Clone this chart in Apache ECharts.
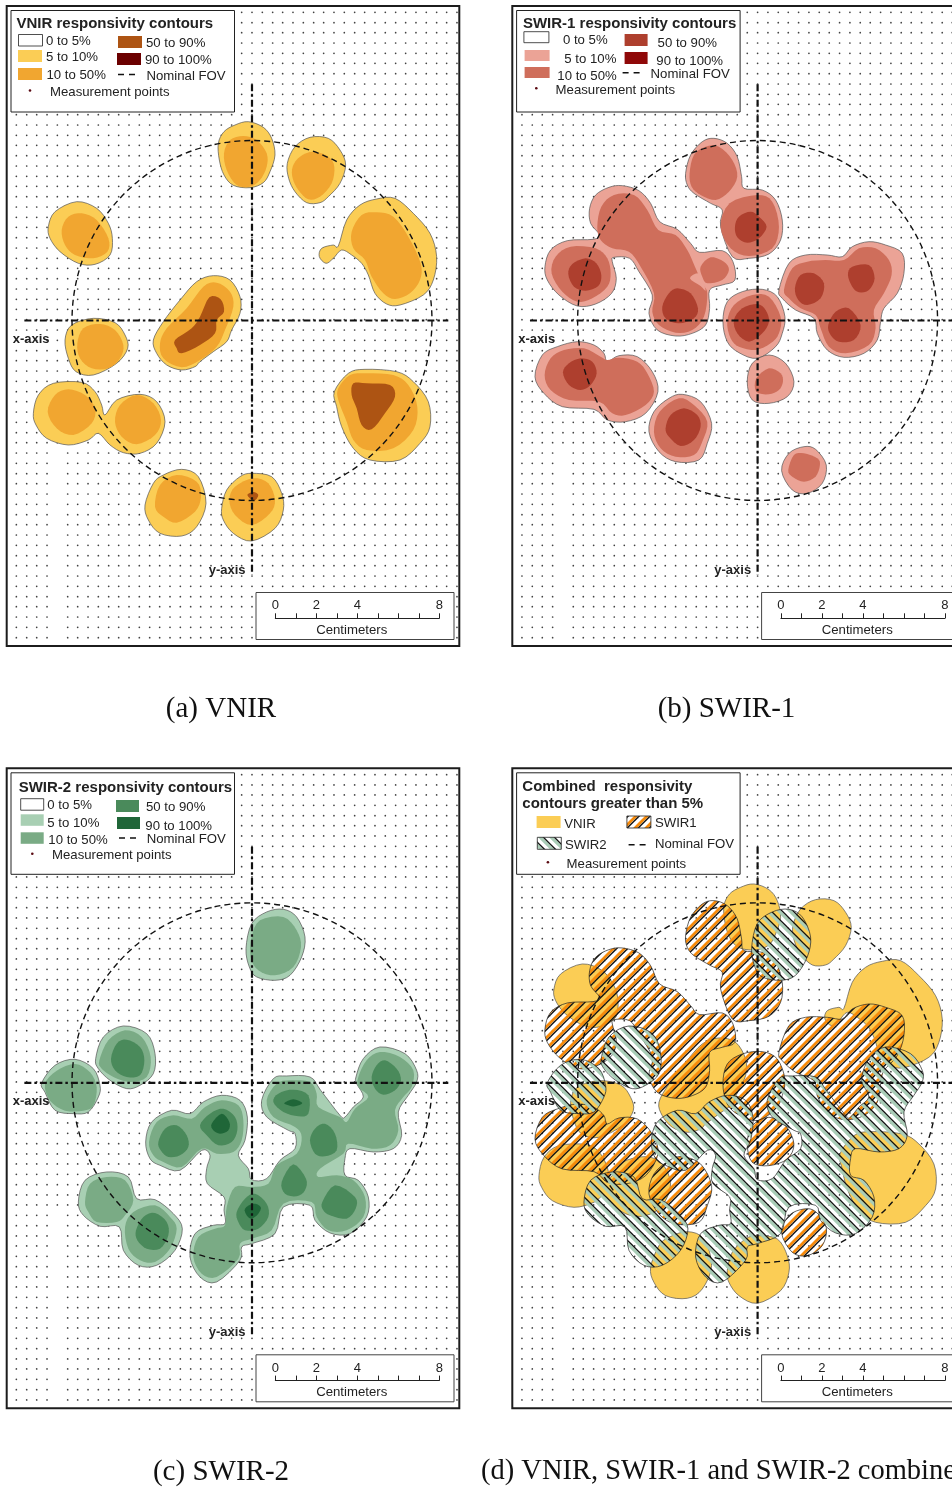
<!doctype html>
<html lang="en">
  <head>
    <meta charset="UTF-8" />
    <title>Responsivity contours</title>
    <style>
      html, body { margin: 0; background: #fff; }
      #chart { width: 952px; height: 1488px; overflow: hidden; }
    </style>
  </head>
  <body>
    <div id="chart"></div>
    <script src="https://cdn.jsdelivr.net/npm/echarts@6/dist/echarts.min.js"></script>
    <script>
      // Map units: 61.5 units = 1 cm, FOV centre sits at (756, 961.5), y grows downward.
      const dotCols = [49, 80, 110, 141, 172, 203, 233, 264, 295, 326, 356, 387, 418, 449, 479, 510, 541, 572, 602, 633, 664, 695, 725, 756, 787, 818, 848, 879, 910, 941, 971, 1002, 1033, 1064, 1094, 1125, 1156, 1187, 1217, 1248, 1279, 1310, 1340, 1371];
      const dotRows = [37, 68, 98, 129, 160, 190, 221, 252, 283, 313, 344, 375, 406, 436, 467, 498, 529, 559, 590, 621, 652, 682, 713, 744, 775, 805, 836, 867, 898, 928, 959, 990, 1021, 1052, 1082, 1113, 1144, 1175, 1205, 1236, 1267, 1298, 1328, 1359, 1390, 1421, 1451, 1482, 1513, 1544, 1574, 1605, 1636, 1667, 1697, 1728, 1759, 1790, 1820, 1851, 1882, 1913];

      const fovCentre = [756, 961.5];
      const fovRadius = 540;
      const xAxisLine = [[73, 961.5], [1345, 961.5]];
      const yAxisLine = [[756, 253], [756, 1725]];

      const scaleTickLabels = [0, 2, 4, 8];

      // VNIR contours
      const vnir5 = [
        [[655,430],[672,395],[705,375],[745,365],[790,382],[815,415],[825,465],[810,515],[790,548],[750,563],[700,556],[672,525],[658,480]],
        [[862,490],[885,440],[930,412],[985,415],[1020,450],[1037,495],[1020,550],[985,590],[960,608],[920,608],[885,575],[866,535]],
        [[1015,738],[1040,660],[1080,615],[1130,597],[1185,595],[1240,640],[1290,700],[1310,770],[1300,840],[1270,885],[1200,915],[1160,912],[1125,880],[1105,825],[1085,790],[1055,765],[1025,750],[1000,775],[978,790],[958,770],[965,745],[1000,735]],
        [[145,680],[165,635],[230,605],[290,625],[325,670],[337,715],[330,765],[285,793],[235,790],[180,755],[150,715]],
        [[460,1020],[490,965],[540,900],[590,845],[640,827],[690,840],[720,890],[720,940],[695,990],[680,1025],[640,1055],[600,1085],[585,1100],[545,1110],[500,1095],[470,1060]],
        [[195,1020],[215,975],[280,955],[345,968],[375,1005],[383,1045],[350,1090],[280,1125],[228,1115],[205,1075]],
        [[100,1240],[115,1185],[160,1150],[245,1147],[285,1175],[305,1215],[315,1245],[350,1200],[420,1183],[470,1205],[495,1265],[470,1330],[420,1360],[370,1358],[330,1335],[295,1300],[265,1320],[205,1335],[140,1315],[108,1275]],
        [[1003,1175],[1045,1120],[1095,1108],[1190,1115],[1240,1145],[1285,1205],[1290,1280],[1260,1330],[1200,1380],[1110,1380],[1060,1345],[1025,1280],[1010,1220]],
        [[435,1515],[460,1450],[490,1425],[545,1408],[595,1430],[618,1510],[590,1580],[545,1608],[480,1600],[445,1560]],
        [[665,1525],[680,1470],[720,1430],[755,1420],[815,1430],[845,1480],[850,1530],[825,1585],[755,1623],[700,1600],[670,1560]],
      ];
      const vnir10 = [
        [[672,460],[690,420],[730,408],[770,420],[800,460],[800,500],[780,540],[750,560],[710,555],[680,510]],
        [[878,500],[900,470],[940,455],[985,470],[1003,500],[995,550],[960,590],[925,598],[895,570],[878,535]],
        [[1055,695],[1085,645],[1130,637],[1180,650],[1225,710],[1262,790],[1260,840],[1230,880],[1185,897],[1150,880],[1115,830],[1095,780],[1060,745]],
        [[185,690],[205,650],[245,640],[290,660],[325,715],[322,755],[280,775],[225,765],[195,735]],
        [[480,1030],[500,985],[560,925],[610,860],[650,848],[690,875],[700,920],[675,990],[650,1040],[600,1080],[545,1102],[490,1075]],
        [[232,1030],[250,985],[300,972],[345,990],[370,1035],[360,1075],[325,1105],[275,1105],[240,1075]],
        [[143,1235],[165,1185],[205,1168],[255,1185],[285,1225],[275,1270],[220,1305],[170,1285]],
        [[345,1265],[360,1215],[410,1185],[460,1210],[483,1260],[465,1305],[410,1333],[365,1310]],
        [[1015,1165],[1050,1125],[1100,1120],[1180,1125],[1225,1155],[1252,1220],[1240,1290],[1180,1345],[1100,1350],[1060,1320],[1040,1265],[1015,1200]],
        [[465,1520],[480,1455],[530,1425],[590,1445],[603,1490],[585,1535],[530,1568],[490,1550]],
        [[688,1500],[705,1460],[760,1435],[805,1450],[825,1500],[810,1540],[755,1575],[705,1545]],
      ];
      const vnir50 = [
        [[525,1020],[575,985],[600,950],[628,892],[662,898],[672,935],[650,960],[645,1000],[600,1035],[545,1060],[530,1045]],
        [[1055,1185],[1060,1150],[1100,1150],[1170,1155],[1185,1190],[1155,1240],[1115,1288],[1085,1275],[1070,1225]],
        [[742,1485],[760,1476],[775,1485],[762,1502]],
      ];

      // SWIR-1 contours
      const swir15 = [
        [[540,520],[555,465],[590,425],[625,415],[665,430],[695,470],[708,530],[715,565],[770,570],[810,600],[830,660],[825,720],[790,762],[730,775],[680,770],[645,680],[650,630],[615,610],[565,580],[545,555]],
        [[118,800],[135,750],[185,722],[262,718],[282,705],[255,670],[252,625],[270,585],[310,562],[350,557],[400,572],[435,610],[462,665],[515,688],[555,730],[582,757],[650,752],[682,785],[688,840],[650,855],[612,870],[612,925],[600,975],[560,1000],[510,1008],[455,990],[430,940],[440,885],[400,815],[372,775],[325,772],[320,785],[332,835],[318,880],[270,912],[215,918],[160,885],[125,840]],
        [[652,965],[665,905],[710,875],[770,868],[815,890],[838,950],[830,1000],[810,1040],[755,1075],[700,1058],[665,1025]],
        [[820,870],[850,790],[900,765],[965,765],[1010,770],[1040,740],[1090,725],[1140,735],[1190,760],[1195,820],[1175,880],[1135,925],[1125,965],[1115,1020],[1075,1060],[1015,1072],[965,1050],[935,1000],[925,955],[870,930],[830,895]],
        [[88,1130],[110,1065],[155,1040],[215,1025],[265,1035],[295,1060],[305,1085],[340,1067],[395,1070],[440,1115],[457,1175],[420,1240],[360,1265],[305,1260],[265,1228],[170,1220],[115,1180]],
        [[430,1295],[445,1235],[490,1195],[530,1183],[585,1205],[618,1270],[605,1330],[580,1380],[510,1385],[460,1355]],
        [[725,1145],[740,1090],[790,1065],[840,1090],[865,1145],[845,1190],[790,1210],[740,1200]],
        [[828,1412],[850,1360],[895,1340],[930,1348],[962,1395],[950,1450],[905,1480],[860,1470]],
      ];
      const swir110 = [
        [[552,520],[565,465],[600,440],[640,440],[680,480],[695,530],[670,575],[630,600],[585,585],[558,560]],
        [[645,680],[672,610],[755,585],[800,605],[820,680],[800,745],[730,768],[675,745]],
        [[275,680],[287,620],[325,585],[385,585],[425,630],[458,690],[510,705],[545,750],[568,800],[590,850],[605,880],[595,950],[560,990],[510,998],[460,975],[440,935],[445,880],[405,800],[370,755],[320,745],[285,720]],
        [[585,800],[615,772],[655,785],[670,810],[650,840],[605,850],[590,830]],
        [[138,820],[150,770],[195,740],[270,745],[305,775],[315,820],[305,860],[260,895],[215,905],[170,875]],
        [[665,965],[685,915],[740,885],[790,890],[825,950],[820,1000],[795,1030],[750,1050],[700,1040],[675,1015]],
        [[835,870],[860,805],[905,785],[960,780],[1015,780],[1060,745],[1110,745],[1150,780],[1158,825],[1135,880],[1105,930],[1110,985],[1090,1035],[1020,1060],[970,1040],[945,985],[930,945],[885,925],[850,895]],
        [[117,1125],[135,1075],[175,1050],[235,1045],[285,1070],[305,1080],[340,1073],[395,1085],[425,1120],[445,1175],[420,1215],[360,1245],[320,1240],[280,1205],[190,1200],[135,1170]],
        [[445,1295],[462,1235],[520,1195],[565,1215],[605,1265],[590,1325],[565,1365],[510,1370],[465,1345]],
        [[752,1135],[790,1105],[825,1120],[832,1145],[820,1170],[790,1183],[752,1175]],
        [[848,1410],[865,1365],[895,1360],[935,1375],[943,1395],[930,1430],[895,1445],[860,1430]],
      ];
      // sliver of the 5% band that cuts into the big 10% area
      const swir1Sliver = [
        [[553,835],[578,820],[592,845],[600,872],[585,858]],
      ];
      const swir150 = [
        [[688,680],[700,650],[735,635],[760,650],[783,680],[760,715],[725,728],[695,712]],
        [[470,920],[490,880],[515,865],[555,880],[577,925],[565,955],[520,970],[480,955]],
        [[188,822],[200,792],[240,775],[272,790],[287,825],[278,858],[240,872],[205,860]],
        [[685,960],[710,925],[755,912],[780,930],[790,965],[770,1000],[730,1025],[695,1000]],
        [[868,865],[885,825],[925,820],[955,850],[945,895],[905,915],[878,900]],
        [[1027,825],[1040,800],[1090,795],[1107,835],[1090,870],[1060,877],[1040,860]],
        [[968,975],[990,935],[1030,925],[1065,975],[1045,1020],[1000,1025],[975,1005]],
        [[172,1117],[190,1090],[225,1075],[260,1085],[273,1120],[255,1155],[225,1170],[190,1155]],
        [[480,1285],[495,1245],[535,1225],[575,1245],[585,1280],[565,1320],[525,1338],[490,1310]],
      ];

      // SWIR-2 contours
      const swir25 = [
        [[738,559],[755,484],[800,449],[850,441],[890,464],[915,524],[905,584],[870,639],[825,654],[770,644],[748,614]],
        [[125,962],[165,909],[225,891],[280,919],[300,970],[295,1004],[265,1049],[220,1054],[165,1044],[135,990]],
        [[287,889],[310,824],[370,791],[440,814],[465,874],[460,934],[420,969],[380,979],[330,954],[295,919]],
        [[437,1139],[455,1079],[515,1044],[570,1054],[610,1019],[665,999],[720,1014],[742,1064],[735,1134],[715,1179],[745,1219],[755,1252],[800,1249],[840,1194],[885,1159],[885,1114],[865,1104],[800,1064],[785,1014],[820,949],[860,941],[930,944],[962,984],[1020,1059],[1035,1064],[1060,1034],[1090,1004],[1070,964],[1068,944],[1090,889],[1140,854],[1215,874],[1250,924],[1250,959],[1225,999],[1195,1049],[1205,1119],[1180,1159],[1120,1169],[1050,1159],[1035,1189],[1035,1239],[1075,1254],[1105,1304],[1100,1364],[1050,1414],[990,1412],[945,1374],[930,1329],[850,1334],[825,1414],[755,1444],[725,1454],[720,1494],[650,1559],[600,1544],[570,1484],[585,1414],[640,1389],[675,1384],[672,1344],[672,1304],[622,1264],[620,1219],[630,1179],[605,1164],[540,1224],[480,1209],[450,1189]],
        [[235,1319],[255,1254],[320,1229],[385,1244],[410,1309],[465,1312],[520,1354],[547,1399],[525,1464],[470,1509],[415,1509],[370,1464],[358,1394],[300,1392],[250,1359]],
      ];
      const swir210 = [
        [[755,524],[780,474],[850,464],[890,504],[903,554],[880,614],[825,639],[775,624],[752,584]],
        [[135,965],[170,925],[225,905],[270,930],[290,975],[280,1030],[250,1045],[195,1045],[150,1015]],
        [[298,894],[325,834],[375,804],[425,824],[452,884],[440,944],[390,959],[340,944],[305,919]],
        [[447,1139],[470,1079],[520,1059],[575,1069],[615,1034],[665,1014],[715,1029],[730,1074],[725,1134],[700,1169],[650,1174],[605,1159],[545,1214],[490,1199],[460,1179]],
        [[800,1014],[830,964],[870,954],[930,959],[950,994],[955,1034],[1020,1064],[1040,1079],[1065,1039],[1105,1004],[1075,974],[1075,944],[1100,894],[1140,869],[1200,884],[1240,924],[1235,974],[1210,1004],[1185,1044],[1195,1104],[1170,1149],[1115,1159],[1045,1144],[1030,1174],[960,1219],[955,1244],[1010,1239],[1060,1254],[1095,1304],[1090,1364],[1040,1404],[985,1404],[950,1364],[935,1319],[850,1324],[815,1404],[755,1429],[720,1444],[715,1489],[650,1544],[605,1534],[580,1484],[595,1424],[645,1399],[675,1389],[680,1334],[705,1274],[755,1274],[805,1264],[830,1209],[890,1174],[905,1124],[885,1094],[820,1064]],
        [[255,1319],[270,1264],[320,1244],[375,1254],[400,1314],[375,1359],[350,1379],[290,1379],[265,1349]],
        [[375,1394],[400,1349],[465,1329],[510,1364],[530,1399],[510,1459],[465,1499],[420,1494],[385,1459]],
      ];
      const swir250 = [
        [[333,889],[350,844],[380,832],[420,854],[433,894],[420,939],[380,944],[345,924]],
        [[1115,944],[1130,909],[1155,894],[1190,919],[1203,954],[1185,984],[1150,997],[1125,979]],
        [[475,1139],[495,1099],[530,1089],[560,1119],[565,1154],[540,1179],[505,1184],[482,1164]],
        [[600,1089],[630,1054],[670,1039],[705,1064],[712,1104],[695,1139],[655,1149],[620,1119]],
        [[820,1019],[835,994],[880,982],[925,999],[925,1054],[895,1062],[850,1049]],
        [[930,1134],[945,1099],[975,1084],[1005,1114],[1010,1164],[975,1182],[945,1174]],
        [[845,1259],[880,1206],[918,1249],[915,1284],[890,1302],[855,1294]],
        [[967,1319],[1005,1269],[1065,1304],[1067,1339],[1040,1369],[990,1359],[970,1344]],
        [[710,1349],[735,1309],[765,1294],[800,1324],[805,1364],[775,1399],[735,1404],[715,1379]],
        [[408,1404],[430,1364],[465,1352],[500,1379],[505,1419],[480,1459],[440,1459],[412,1434]],
      ];
      const swir290 = [
        [[635,1084],[665,1054],[688,1079],[685,1104],[660,1114],[640,1104]],
        [[853,1022],[880,1011],[907,1022],[885,1032],[865,1029]],
        [[735,1339],[760,1324],[782,1334],[775,1354],[755,1369],[740,1359]],
      ];

      const FONT = '"Liberation Sans", Arial, sans-serif';
      const INK = "#222";
      const vnirColors = ["#fbcd55", "#f1a630", "#ad5413", "#6b0000"];
      const swir1Colors = ["#eba396", "#cf6e5b", "#ae3f2e", "#8f0808"];
      const swir2Colors = ["#a8cfb3", "#7aab85", "#4a8a5b", "#1f6638"];

      // diagonal stripe tile for the combined panel
      function hatch(dir, color, stripeW, blackW) {
        const p = 11;
        const c = document.createElement("canvas");
        c.width = p;
        c.height = p;
        const g = c.getContext("2d");
        const stroke = (offset, col, w) => {
          g.strokeStyle = col;
          g.lineWidth = w;
          for (let k = -2; k <= 2; k++) {
            g.beginPath();
            if (dir > 0) {
              g.moveTo(k * p + offset - p, 2 * p);
              g.lineTo(k * p + offset + 2 * p, -p);
            } else {
              g.moveTo(k * p + offset - p, -p);
              g.lineTo(k * p + offset + 2 * p, 2 * p);
            }
            g.stroke();
          }
        };
        stroke(0, color, stripeW);
        stroke(3.2, "#111", blackW);
        return { image: c, repeat: "repeat" };
      }
      const swir1Hatch = hatch(1, "#f78a0a", 2.7, 1.4);
      const swir2Hatch = hatch(-1, "#a9cdb7", 3.1, 1.3);

      // frame top-left of each panel on the page
      const panelOrigins = [[6.7, 6], [512.3, 6], [6.7, 768.3], [512.3, 768.3]];
      const panelW = 452.6;
      const panelH = 640;

      const captions = [
        { text: "(a) VNIR", x: 221, y: 708, align: "center", size: 29 },
        { text: "(b) SWIR-1", x: 726.5, y: 708, align: "center", size: 29 },
        { text: "(c) SWIR-2", x: 221, y: 1471, align: "center", size: 29 },
        { text: "(d) VNIR, SWIR-1 and SWIR-2 combined", x: 481, y: 1471, align: "left", size: 28.5 },
      ];

      // legend layouts, offsets from the left/top of a panel's own page frame
      const legends = [
        {
          titles: [["VNIR responsivity contours", 16.5, 23]],
          swatches: [
            ["#fff", 18.5, 34.5, 24, 11.5, "0 to 5%", 46, 40.7],
            [vnirColors[0], 18, 50, 24, 12, "5 to 10%", 46, 56.5],
            [vnirColors[1], 18, 68, 24, 12, "10 to 50%", 46.5, 74.3],
            [vnirColors[2], 118, 36, 24, 12, "50 to 90%", 146, 42],
            [vnirColors[3], 117, 53, 24, 12, "90 to 100%", 145, 59],
          ],
          fov: [118, 140, 74.5, 146.5, 75],
          point: [30, 90.5, 50, 91],
        },
        {
          titles: [["SWIR-1 responsivity contours", 17.3, 23]],
          swatches: [
            ["#fff", 18.3, 31.7, 25, 11, "0 to 5%", 57.3, 39.7],
            [swir1Colors[0], 19, 50, 25, 11, "5 to 10%", 58.7, 58.7],
            [swir1Colors[1], 19, 67, 25, 11, "10 to 50%", 51.7, 75.3],
            [swir1Colors[2], 119, 34, 23, 12, "50 to 90%", 152, 42.3],
            [swir1Colors[3], 119, 52, 23, 12, "90 to 100%", 150.7, 60.3],
          ],
          fov: [117, 138, 72.7, 145, 73.3],
          point: [30.7, 88.3, 50, 89.3],
        },
        {
          titles: [["SWIR-2 responsivity contours", 18.7, 24.4]],
          swatches: [
            ["#fff", 20.7, 36.4, 23, 11.5, "0 to 5%", 47.3, 42],
            [swir2Colors[0], 20.7, 52, 23, 11.5, "5 to 10%", 47.3, 60],
            [swir2Colors[1], 20.7, 70, 23, 11.5, "10 to 50%", 48.3, 77],
            [swir2Colors[2], 116, 37.7, 23, 12, "50 to 90%", 146, 44],
            [swir2Colors[3], 117, 54.7, 23, 12, "90 to 100%", 145.3, 63],
          ],
          fov: [119, 140, 75.7, 146.7, 76],
          point: [32.3, 91.4, 52, 92.4],
        },
        {
          titles: [["Combined  responsivity", 16.7, 23.7], ["contours greater than 5%", 16.7, 40.7]],
          swatches: [
            [vnirColors[0], 31, 53.7, 24, 12, "VNIR", 58.7, 60.7],
            [swir1Hatch, 121.3, 53.7, 24, 12, "SWIR1", 149.3, 60],
            [swir2Hatch, 31.7, 75, 24, 12, "SWIR2", 59.3, 81.7],
          ],
          fov: [123, 144, 82.4, 149.3, 81],
          point: [42.3, 100, 61, 101],
        },
      ];

      function label(text, x, y, font, extra) {
        return {
          type: "text",
          z: 102,
          x,
          y: y + 1,
          silent: true,
          style: Object.assign({ text, font, fill: INK, verticalAlign: "middle", align: "left" }, extra || {}),
        };
      }

      function panelGraphics(i) {
        const [ox, oy] = panelOrigins[i];
        const px = ox - 6.7; // legend numbers (a)'s frame
        const py = oy - 6;
        const leg = legends[i];
        const items = [
          { type: "rect", z: 100, silent: true, shape: { x: ox, y: oy, width: panelW, height: panelH }, style: { fill: "none", stroke: "#1c1c1c", lineWidth: 2 } },
          { type: "rect", z: 101, silent: true, shape: { x: px + 11, y: py + 10.5, width: 223.5, height: 101.5 }, style: { fill: "#fff", stroke: "#222", lineWidth: 1 } },
          { type: "rect", z: 101, silent: true, shape: { x: px + 256, y: py + 592.5, width: 198, height: 47 }, style: { fill: "#fff", stroke: "#444", lineWidth: 1 } },
          label("Centimeters", px + 351.7, py + 629.5, "13.2px " + FONT, { align: "center" }),
          label("x-axis", px + 12.7, py + 338.5, "bold 13px " + FONT),
          label("y-axis", px + 208.7, py + 569.5, "bold 13px " + FONT),
        ];
        leg.titles.forEach(([t, x, y]) => items.push(label(t, px + x, py + y, "bold 15px " + FONT)));
        leg.swatches.forEach(([fill, x, y, w, h, t, tx, ty]) => {
          items.push({
            type: "rect",
            z: 102,
            silent: true,
            shape: { x: px + x, y: py + y, width: w, height: h },
            style: { fill, stroke: fill === "#fff" || fill.image ? "#222" : null, lineWidth: 0.8 },
          });
          items.push(label(t, px + tx, py + ty, "13.2px " + FONT));
        });
        const [x1, x2, ly, tx, ty] = leg.fov;
        items.push({
          type: "line",
          z: 102,
          silent: true,
          shape: { x1: px + x1, y1: py + ly, x2: px + x2, y2: py + ly },
          style: { stroke: "#111", lineWidth: 1.4, lineDash: [6, 5] },
        });
        items.push(label("Nominal FOV", px + tx, py + ty, "13.2px " + FONT));
        const [dx, dy, mx, my] = leg.point;
        items.push({ type: "circle", z: 102, silent: true, shape: { cx: px + dx, cy: py + dy, r: 1.3 }, style: { fill: "#5a0a12" } });
        items.push(label("Measurement points", px + mx, py + my, "13.2px " + FONT));
        return items;
      }

      // closed Catmull-Rom pass so the outlines are drawn rounded through the read vertices
      function roundRing(ring) {
        const out = [];
        const n = ring.length;
        for (let i = 0; i < n; i++) {
          const a = ring[(i + n - 1) % n];
          const b = ring[i];
          const c = ring[(i + 1) % n];
          const d = ring[(i + 2) % n];
          for (let s = 0; s < 4; s++) {
            const t = s / 4;
            const t2 = t * t;
            const t3 = t2 * t;
            out.push([0, 1].map((k) =>
              0.5 * (2 * b[k] + (c[k] - a[k]) * t + (2 * a[k] - 5 * b[k] + 4 * c[k] - d[k]) * t2 + (3 * b[k] - a[k] - 3 * c[k] + d[k]) * t3)
            ));
          }
        }
        return out;
      }

      function contourSeries(i, rings, fill, stroke) {
        const rounded = rings.map(roundRing);
        return {
          type: "custom",
          xAxisIndex: i,
          yAxisIndex: i,
          silent: true,
          z: 3,
          clip: false,
          data: rings.map((r, k) => [k, k]),
          renderItem: (params, api) => ({
            type: "polygon",
            shape: { points: rounded[params.dataIndex].map((p) => api.coord(p)) },
            style: { fill, stroke: stroke || null, lineWidth: 0.7 },
          }),
        };
      }

      function baseSeries(i) {
        const dots = [];
        dotCols.forEach((x) => {
          dotRows.forEach((y) => {
            if (!(x === 172 && y > 1350)) dots.push([x, y]);
          });
        });
        return {
          type: "scatter",
          xAxisIndex: i,
          yAxisIndex: i,
          silent: true,
          z: 1,
          symbol: "circle",
          symbolSize: 1.7,
          itemStyle: { color: "#111" },
          data: dots,
        };
      }

      function overlaySeries(i) {
        const axisLine = (data) => ({
          type: "line",
          xAxisIndex: i,
          yAxisIndex: i,
          silent: true,
          z: 6,
          showSymbol: false,
          data,
          lineStyle: { color: "#111", width: 2.2, type: [7, 3, 2.5, 3] },
        });
        return [
          axisLine(xAxisLine),
          axisLine(yAxisLine),
          {
            type: "custom",
            xAxisIndex: i,
            yAxisIndex: i,
            silent: true,
            z: 7,
            clip: false,
            data: [[fovCentre[0], fovCentre[1]]],
            renderItem: (params, api) => {
              const c = api.coord([api.value(0), api.value(1)]);
              return {
                type: "circle",
                shape: { cx: c[0], cy: c[1], r: api.size([fovRadius, 0])[0] },
                style: { fill: "none", stroke: "#111", lineWidth: 1.4, lineDash: [6, 4] },
              };
            },
          },
        ];
      }

      const panelContours = [
        [[vnir5, vnirColors[0], "#555"], [vnir10, vnirColors[1]], [vnir50, vnirColors[2]]],
        [[swir15, swir1Colors[0], "#555"], [swir110, swir1Colors[1]], [swir1Sliver, swir1Colors[0]], [swir150, swir1Colors[2]]],
        [[swir25, swir2Colors[0], "#555"], [swir210, swir2Colors[1]], [swir250, swir2Colors[2]], [swir290, swir2Colors[3]]],
        [[vnir5, vnirColors[0], "#555"], [swir15, swir1Hatch, "#222"], [swir25, swir2Hatch, "#222"]],
      ];

      const grids = [];
      const xAxes = [];
      const yAxes = [];
      const series = [];
      let graphics = [];

      panelOrigins.forEach(([ox, oy], i) => {
        grids.push({ left: ox, top: oy, width: panelW, height: panelH, outerBoundsMode: "none" });
        xAxes.push({ gridIndex: i, type: "value", min: 20, max: 1378, show: false });
        yAxes.push({ gridIndex: i, type: "value", min: 18, max: 1938, inverse: true, show: false });
        series.push(baseSeries(i));
        panelContours[i].forEach(([rings, fill, stroke]) => series.push(contourSeries(i, rings, fill, stroke)));
        series.push(...overlaySeries(i));
        graphics = graphics.concat(panelGraphics(i));
      });

      // scale bars are real axes in centimetres
      panelOrigins.forEach(([ox, oy], i) => {
        const g = grids.length;
        grids.push({ left: ox + 268.6, top: oy + 612.3, width: 164, height: 1, outerBoundsMode: "none" });
        xAxes.push({
          gridIndex: g,
          type: "value",
          position: "top",
          min: 0,
          max: 8,
          interval: 1,
          z: 110,
          axisLine: { show: true, onZero: false, lineStyle: { color: "#222", width: 1 } },
          axisTick: { show: true, inside: false, length: 5, lineStyle: { color: "#222", width: 1 } },
          splitLine: { show: false },
          axisLabel: {
            show: true,
            margin: 6,
            fontFamily: FONT,
            fontSize: 13,
            color: INK,
            formatter: (v) => (scaleTickLabels.includes(v) ? String(v) : ""),
          },
        });
        yAxes.push({ gridIndex: g, type: "value", min: 0, max: 1, show: false });
      });

      captions.forEach((c) => {
        graphics.push(label(c.text, c.x, c.y, c.size + 'px "Liberation Serif", serif', { align: c.align, fill: "#111" }));
      });

      const myChart = echarts.init(document.querySelector("#chart"), null, { renderer: "canvas" });
      myChart.setOption({
        animation: false,
        backgroundColor: "#fff",
        grid: grids,
        xAxis: xAxes,
        yAxis: yAxes,
        series,
        graphic: { elements: graphics },
      });
    </script>
  </body>
</html>
